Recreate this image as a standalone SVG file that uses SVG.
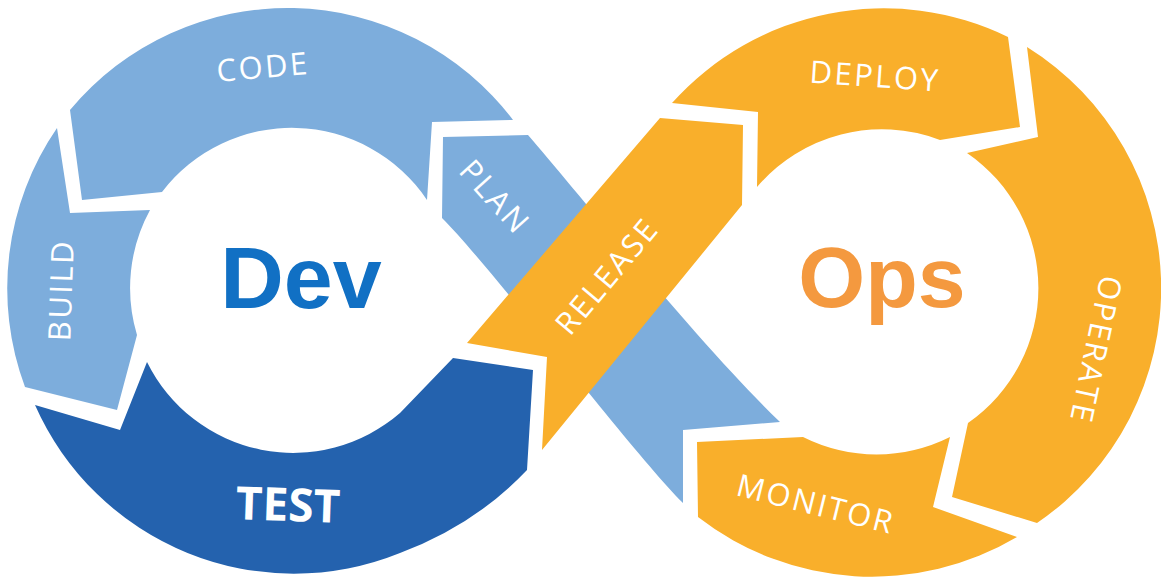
<svg xmlns="http://www.w3.org/2000/svg" width="1161" height="579" viewBox="0 0 1161 579">
  <style>
    .light { fill: #7DADDC; }
    .dark { fill: #2462AE; }
    .orange { fill: #F9AF2B; }
    .lbl { font-family: "Open Sans", "Liberation Sans", sans-serif; font-size: 31px; fill: #FFFFFF; letter-spacing: 2.5px; text-anchor: middle; }
    .big { font-family: "Liberation Sans", Arial, sans-serif; font-weight: bold; font-size: 88px; text-anchor: middle; }
  </style>
  <rect width="1161" height="579" fill="#FFFFFF"/>

  <g id="plan">
    <path class="light" d="M 443,137 L 528,135 C 580,195 700,345 780,422 L 683,430 L 683,503 C 633,453 492,268 442,218 Z"/>
    <text class="lbl" transform="translate(495,197) rotate(48)" x="0" y="11">PLAN</text>
  </g>

  <g id="release">
    <path class="orange" d="M 467,343 L 660,118 L 743,125 L 742,205 L 542,450 L 547,357 Z"/>
    <text class="lbl" transform="translate(607,276) rotate(-50)" x="0" y="11">RELEASE</text>
  </g>

  <g id="code">
    <path class="light" d="M 70,110 A 283 283 0 0 1 513,120 L 432,122 L 427,200 A 163 163 0 0 0 162,192 L 82,200 Z"/>
    <text class="lbl" transform="translate(263,67) rotate(-5)" x="0" y="11">CODE</text>
  </g>

  <g id="build">
    <path class="light" d="M 57,128 A 283 283 0 0 0 25,387 L 117,410 L 137,335 A 163 163 0 0 1 150,210 L 70,213 Z"/>
    <text class="lbl" transform="translate(61,290) rotate(-88)" x="0" y="11">BUILD</text>
  </g>

  <g id="test">
    <path class="dark" d="M 35,405 A 283 283 0 0 0 400,553 Q 475,525 527,470 L 533,370 L 453,358 L 400,413 A 163 163 0 0 1 147,362 L 120,430 Z"/>
    <text transform="translate(288,505) rotate(2)" x="0" y="16" style="font-family: 'Open Sans', 'Liberation Sans', sans-serif; font-weight: bold; font-size: 46px; fill: #FFFFFF; text-anchor: middle;">TEST</text>
  </g>

  <g id="deploy">
    <path class="orange" d="M 672,103 A 284 284 0 0 1 1008,37 L 1020,127 L 940,140 A 164 164 0 0 0 757,187 L 758,112 Z"/>
    <text class="lbl" transform="translate(875,76) rotate(4)" x="0" y="11">DEPLOY</text>
  </g>

  <g id="operate">
    <path class="orange" d="M 1027,47 A 284 284 0 0 1 1037,523 L 952,497 L 968,423 A 164 164 0 0 0 967,153 L 1038,137 Z"/>
    <text class="lbl" transform="translate(1096,350) rotate(102)" x="0" y="11">OPERATE</text>
  </g>

  <g id="monitor">
    <path class="orange" d="M 1017,537 L 933,507 L 950,437 A 164 164 0 0 1 803,437 L 697,442 L 698,517 A 284 284 0 0 0 1017,537 Z"/>
    <text class="lbl" transform="translate(816,504) rotate(14)" x="0" y="11">MONITOR</text>
  </g>

  <g id="dev">
    <text class="big" x="301" y="308" fill="#1170C4">Dev</text>
  </g>

  <g id="ops">
    <text class="big" x="882" y="307" fill="#F4993F" style="font-size: 86px;">Ops</text>
  </g>
</svg>
